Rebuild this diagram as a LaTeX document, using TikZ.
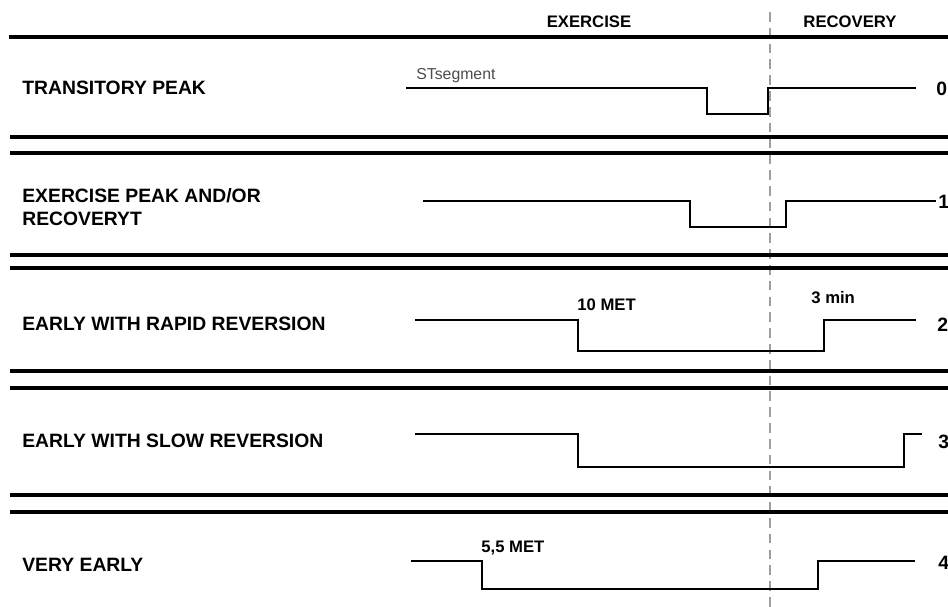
\documentclass[tikz,border=0pt]{standalone}
\usepackage{fontspec}
\setmainfont{Liberation Sans}
\usepackage{tikz}
\usetikzlibrary{positioning}

\begin{document}
\begin{tikzpicture}[
  x=0.02cm, y=-0.02cm,
  font=\fontsize{11}{13}\selectfont\bfseries,
  rowlbl/.style={anchor=west, align=left, inner sep=0pt},
  hdr/.style={font=\fontsize{9.5}{11}\selectfont\bfseries, inner sep=0pt},
  note/.style={font=\fontsize{9.5}{11}\selectfont\bfseries, anchor=base west, inner sep=0pt},
  grade/.style={anchor=west, inner sep=0pt},
  rule/.style={line width=2pt, black},
  wave/.style={line width=1.3pt, black},
  phase/.style={gray!75, line width=0.9pt, dash pattern=on 5.5pt off 3.5pt}
]
  \useasboundingbox (0,0) rectangle (948,607);
  \clip (0,0) rectangle (948,607);

  % exercise / recovery border
  \draw[phase] (770,12) -- (770,607);
  \node[hdr] (exer) at (589,22) {EXERCISE};
  \node[hdr] (recov) at (850,22) {RECOVERY};

  % separators
  \draw[rule] (9,37) -- (948,37);
  \draw[rule] (10,137) -- (948,137);
  \draw[rule] (10,153) -- (948,153);
  \draw[rule] (10,255) -- (948,255);
  \draw[rule] (10,268) -- (948,268);
  \draw[rule] (10,371) -- (948,371);
  \draw[rule] (10,388) -- (948,388);
  \draw[rule] (10,495) -- (948,495);
  \draw[rule] (10,512) -- (948,512);

  % row labels
  \node[rowlbl] (tp)  at (22,88)  {TRANSITORY PEAK};
  \node[rowlbl] (epr) at (22,207) {EXERCISE PEAK AND/OR\\RECOVERYT};
  \node[rowlbl] (ewr) at (22,324) {EARLY WITH RAPID REVERSION};
  \node[rowlbl] (ews) at (22,441) {EARLY WITH SLOW REVERSION};
  \node[rowlbl] (ve)  at (22,565) {VERY EARLY};

  % ST segment traces
  \draw[wave] (406,88) -- (707,88) -- (707,114) -- (768,114) -- (768,88) -- (916,88);
  \draw[wave] (423,201) -- (690,201) -- (690,227) -- (786,227) -- (786,201) -- (936,201);
  \draw[wave] (415,320) -- (578,320) -- (578,351) -- (824,351) -- (824,320) -- (916,320);
  \draw[wave] (415,434) -- (578,434) -- (578,467) -- (904,467) -- (904,434) -- (922,434);
  \draw[wave] (411,561) -- (482,561) -- (482,589) -- (818,589) -- (818,561) -- (915,561);

  \node[note, font=\fontsize{9}{11}\selectfont\mdseries, text=black!70] (st) at (416,80) {STsegment};
  \node[note] (met10) at (577,311) {10 MET};
  \node[note] (min3)  at (811,304) {3 min};
  \node[note] (met55) at (481,553) {5,5 MET};

  % grades
  \node[grade] (g0) at (936,89)  {0};
  \node[grade] (g1) at (938,202) {1};
  \node[grade] (g2) at (937,325) {2};
  \node[grade] (g3) at (938,442) {3};
  \node[grade] (g4) at (938,563) {4};
\end{tikzpicture}
\end{document}
